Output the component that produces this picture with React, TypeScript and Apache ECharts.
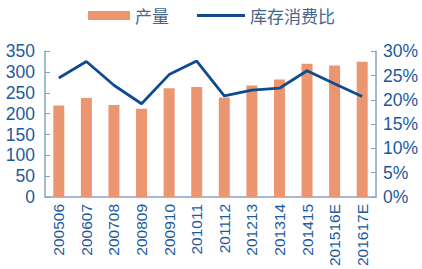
import React, { useEffect, useRef } from "react";
import * as echarts from "echarts";

const categories = ["200506", "200607", "200708", "200809", "200910", "201011", "201112", "201213", "201314", "201415", "201516E", "201617E"];
const production = [220, 238, 221, 212, 261, 264, 239, 268, 282, 320, 316, 325];
const stockRatio = [24.5, 27.9, 23.0, 19.2, 25.2, 28.0, 20.8, 22.0, 22.4, 26.0, 23.3, 20.7];
const leftTicks = { min: 0, max: 350, interval: 50 };
const rightTicks = { min: 0, max: 30, interval: 5 };

const BAR = "#EB9670";
const LINE = "#0E4C8E";
const TXT = "#1C5A9E";
const AXIS = "#86A3C6";
const FONT = "'Liberation Sans', Arial, sans-serif";
const CJK = "'Noto Sans CJK SC', sans-serif";

export default function App() {
  const ref = useRef<HTMLDivElement>(null);
  useEffect(() => {
    if (!ref.current) return;
    const chart = echarts.init(ref.current, undefined, { renderer: "svg" });
    chart.setOption({
      animation: false,
      backgroundColor: "#ffffff",
      legend: [
        {
          data: [{ name: "产量", icon: "rect" }],
          left: 83,
          top: 2,
          itemWidth: 42,
          itemHeight: 9,
          itemGap: 6,
          textStyle: { fontFamily: CJK, fontSize: 17, color: "#46658A" },
        },
        {
          data: [{ name: "库存消费比", icon: "rect" }],
          left: 192,
          top: 2,
          itemWidth: 48,
          itemHeight: 3,
          itemGap: 4,
          textStyle: { fontFamily: CJK, fontSize: 17, color: "#46658A" },
        },
      ],
      grid: { left: 45, right: 46, top: 51.3, bottom: 70.7, containLabel: false },
      xAxis: {
        type: "category",
        data: categories,
        boundaryGap: true,
        axisLine: { lineStyle: { color: AXIS, width: 1.5 } },
        axisTick: { inside: true, length: 5, lineStyle: { color: "#C9D6E6" } },
        axisLabel: { rotate: 90, fontSize: 15.5, fontFamily: FONT, color: TXT, margin: 7, interval: 0 },
      },
      yAxis: [
        {
          type: "value",
          ...leftTicks,
          axisLine: { show: true, lineStyle: { color: AXIS, width: 1.5 } },
          axisTick: { show: true, inside: true, length: 5, lineStyle: { color: AXIS } },
          splitLine: { show: false },
          axisLabel: { fontSize: 17.5, fontFamily: FONT, color: TXT, margin: 10 },
        },
        {
          type: "value",
          ...rightTicks,
          position: "right",
          axisLine: { show: true, lineStyle: { color: AXIS, width: 1.5 } },
          axisTick: { show: true, inside: true, length: 5, lineStyle: { color: AXIS } },
          splitLine: { show: false },
          axisLabel: { fontSize: 17.5, fontFamily: FONT, color: TXT, margin: 7, formatter: "{value}%" },
        },
      ],
      series: [
        {
          name: "产量",
          type: "bar",
          data: production,
          barWidth: 11,
          itemStyle: { color: BAR },
          yAxisIndex: 0,
        },
        {
          name: "库存消费比",
          type: "line",
          data: stockRatio,
          yAxisIndex: 1,
          symbol: "none",
          lineStyle: { color: LINE, width: 2.8 },
          itemStyle: { color: LINE },
        },
      ],
    });
    return () => chart.dispose();
  }, []);
  return <div ref={ref} style={{ position: "fixed", left: 0, top: 0, width: 422, height: 269 }} />;
}
